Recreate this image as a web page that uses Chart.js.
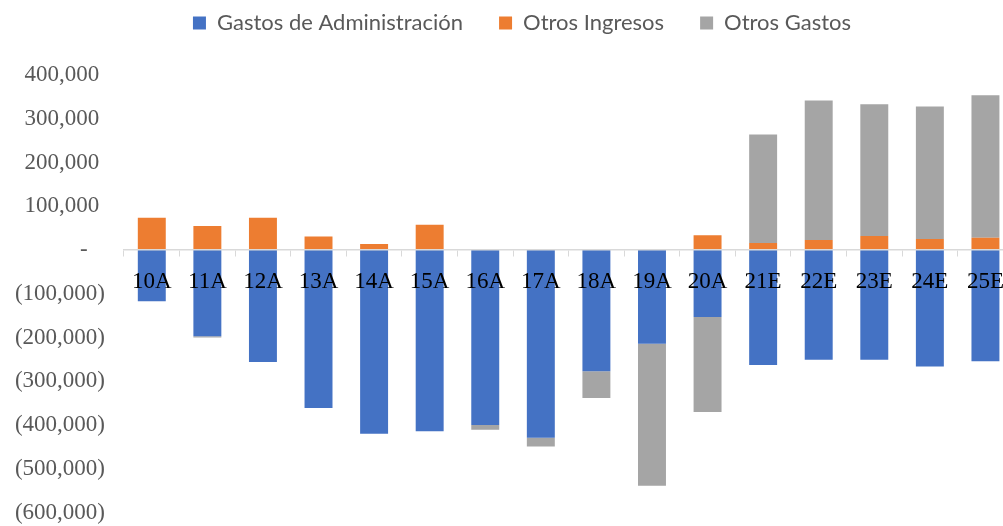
<!DOCTYPE html>
<html>
<head>
<meta charset="utf-8">
<script src="https://cdn.jsdelivr.net/npm/chart.js@4"></script>
<style>
  html, body { margin: 0; padding: 0; background: #fff; overflow: hidden; }
  canvas { display: block; }
</style>
</head>
<body>
<canvas id="c" width="1016" height="526"></canvas>
<script>
const categories = ['10A','11A','12A','13A','14A','15A','16A','17A','18A','19A','20A','21E','22E','23E','24E','25E'];
const gastosAdministracion = [-117000,-197000,-256000,-361000,-420000,-414000,-400000,-429000,-277000,-214000,-153000,-263000,-251000,-251000,-266000,-254000];
const otrosIngresos = [74000,55000,74000,31000,14000,58000,0,0,0,0,34000,16000,23000,32000,25000,28000];
const otrosGastos = [0,-3000,0,0,0,0,-11000,-20000,-61000,-325000,-217000,248000,319000,301000,303000,326000];
const seriesNames = ['Gastos de Administración','Otros Ingresos','Otros Gastos'];
const yMin = -600000, yMax = 400000, yStep = 100000;

const serifFont = "'Liberation Serif', 'Times New Roman', serif";

function fmtTick(v) {
  const s = Math.abs(v).toLocaleString('en-US');
  if (v === 0) return '-   ';
  if (v < 0) return '(' + s + ')';
  return s + ' ';
}

const legendSpacer = {
  id: 'legendSpacer',
  beforeLayout(chart) {
    const lg = chart.legend;
    if (lg && !lg._patched) {
      const f = lg.fit;
      lg.fit = function () { f.call(this); this.height = 99; };
      lg._patched = true;
    }
  }
};

new Chart(document.getElementById('c'), {
  type: 'bar',
  data: {
    labels: categories,
    datasets: [
      { label: seriesNames[0], data: gastosAdministracion, backgroundColor: '#4472C4' },
      { label: seriesNames[1], data: otrosIngresos, backgroundColor: '#ED7D31' },
      { label: seriesNames[2], data: otrosGastos, backgroundColor: '#A5A5A5' }
    ]
  },
  options: {
    responsive: false,
    animation: false,
    devicePixelRatio: 1,
    layout: { padding: { top: -24, left: 29, right: 1, bottom: 13.5 } },
    datasets: { bar: { categoryPercentage: 1, barPercentage: 0.503 } },
    plugins: {
      legend: {
        position: 'top',
        labels: {
          boxWidth: 13, boxHeight: 13, padding: 36,
          color: '#595959',
          font: { family: 'Lato', size: 22 }
        }
      },
      tooltip: { enabled: false }
    },
    scales: {
      x: {
        stacked: true,
        position: { y: 0 },
        afterFit(s) { s.height = 0; },
        grid: { display: true, drawOnChartArea: false, drawTicks: true, tickLength: 6, color: '#D9D9D9', lineWidth: 1, offset: true },
        border: { display: true, color: '#D9D9D9', width: 1.5, z: 1 },
        ticks: { z: 2, color: '#000', padding: 12, maxRotation: 0, autoSkip: false, font: { family: serifFont, size: 23 } }
      },
      y: {
        stacked: true,
        min: yMin, max: yMax,
        grid: { display: false, drawTicks: false },
        border: { display: false },
        afterFit(s) {
          s.width = 95; s.paddingTop = 0; s.paddingBottom = 0;
          s._computeLabelArea = function () { return undefined; };
        },
        ticks: { stepSize: yStep, padding: 19, color: '#595959', font: { family: serifFont, size: 23 }, callback: fmtTick }
      }
    }
  },
  plugins: [legendSpacer]
});
</script>
</body>
</html>
